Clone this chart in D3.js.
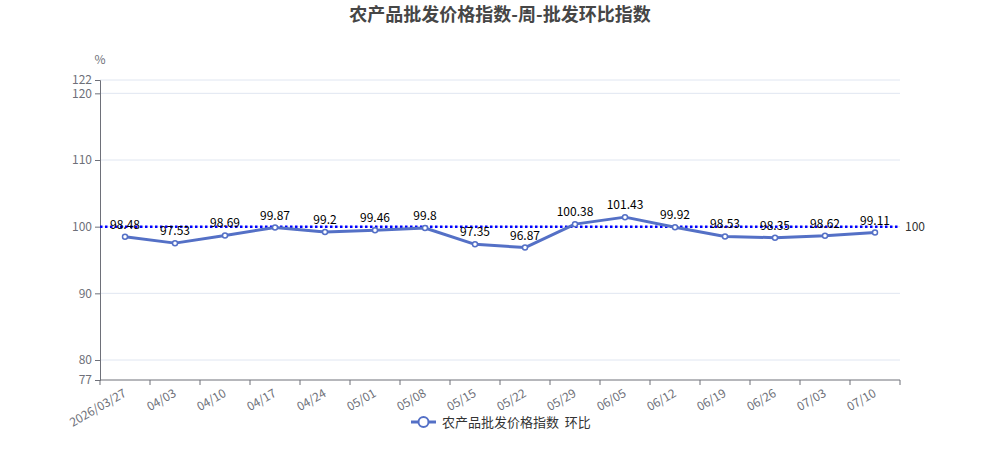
<!DOCTYPE html>
<html><head><meta charset="utf-8">
<script src="https://cdn.jsdelivr.net/npm/d3@7/dist/d3.min.js"></script>
<style>body{margin:0;background:#fff;font-family:"Noto Sans CJK SC","Noto Sans",sans-serif;}</style>
</head><body><svg id="c" width="1000" height="450"></svg>
<script>
const categories = ["2026/03/27","04/03","04/10","04/17","04/24","05/01","05/08","05/15","05/22","05/29","06/05","06/12","06/19","06/26","07/03","07/10"];
const values = [98.48,97.53,98.69,99.87,99.2,99.46,99.8,97.35,96.87,100.38,101.43,99.92,98.53,98.35,98.62,99.11];
const yTicks = [77,80,90,100,110,120,122];
const refValue = 100;
const title = "农产品批发价格指数-周-批发环比指数";
const seriesName = "农产品批发价格指数  环比";

const svg = d3.select("#c");
const L=100,R=900,T=80,B=380;
const x = d3.scaleBand().domain(categories).range([L,R]);
const y = d3.scaleLinear().domain([77,122]).range([B,T]);
const font = '"Noto Sans CJK SC","Noto Sans",sans-serif';
const color = "#5470c6";

svg.append("text").attr("x",500).attr("y",21).attr("text-anchor","middle")
  .attr("font-size",18).attr("font-weight","bold").attr("fill","#464646").attr("font-family",font).text(title);

// grid
svg.append("g").selectAll("line").data(yTicks.filter(d=>d!==77)).join("line")
  .attr("x1",L).attr("x2",R).attr("y1",d=>y(d)).attr("y2",d=>y(d)).attr("stroke","#e0e6f1").attr("stroke-width",1);

// y axis
const ya = svg.append("g").attr("transform",`translate(${L},0)`)
  .call(d3.axisLeft(y).tickValues(yTicks).tickSize(5).tickPadding(3).tickFormat(d3.format("d")));
ya.select(".domain").attr("stroke","#6e7079");
ya.selectAll(".tick line").attr("stroke","#6e7079");
ya.selectAll("text").attr("fill","#6e7079").attr("font-size",12).attr("font-family",font);
svg.append("text").attr("x",100).attr("y",64).attr("text-anchor","middle").attr("fill","#6e7079")
  .attr("font-size",12).attr("font-family",font).text("%");

// x axis
const xa = svg.append("g").attr("transform",`translate(0,${B})`);
xa.append("line").attr("x1",L).attr("x2",R).attr("stroke","#6e7079");
const tickPos = categories.map((c,i)=>L+i*x.step()).concat([R]);
xa.selectAll(".tk").data(tickPos).join("line").attr("x1",d=>d).attr("x2",d=>d).attr("y1",0).attr("y2",5).attr("stroke","#6e7079");
xa.selectAll(".lb").data(categories).join("text")
  .attr("transform",d=>`translate(${x(d)+x.bandwidth()/2},${12}) rotate(-30)`)
  .attr("text-anchor","end").attr("dy","0.35em").attr("fill","#6e7079").attr("font-size",12).attr("font-family",font).text(d=>d);

// reference line
svg.append("line").attr("x1",L).attr("x2",R).attr("y1",y(refValue)).attr("y2",y(refValue))
  .attr("stroke","#0000ff").attr("stroke-width",2.5).attr("stroke-dasharray","2.5,2.5");
svg.append("text").attr("x",905).attr("y",y(refValue)).attr("dy","0.35em").attr("fill","#333")
  .attr("font-size",12).attr("font-family",font).text(refValue);

// line
const cx = d=>x(d)+x.bandwidth()/2;
const line = d3.line().x((d,i)=>cx(categories[i])).y(d=>y(d));
svg.append("path").datum(values).attr("d",line).attr("fill","none").attr("stroke",color).attr("stroke-width",3).attr("stroke-linejoin","round");
svg.append("g").selectAll("circle").data(values).join("circle")
  .attr("cx",(d,i)=>cx(categories[i])).attr("cy",d=>y(d)).attr("r",2.5)
  .attr("fill","#fff").attr("stroke",color).attr("stroke-width",1.5);
svg.append("g").selectAll("text").data(values).join("text")
  .attr("x",(d,i)=>cx(categories[i])).attr("y",d=>y(d)-8).attr("text-anchor","middle")
  .attr("fill","#000").attr("font-size",12).attr("font-family",font).text(d=>d);

// legend
const lg = svg.append("g");
lg.append("line").attr("x1",411).attr("x2",436).attr("y1",422).attr("y2",422).attr("stroke",color).attr("stroke-width",3);
lg.append("circle").attr("cx",423.5).attr("cy",422).attr("r",5).attr("fill","#fff").attr("stroke",color).attr("stroke-width",2);
lg.append("text").attr("x",442).attr("y",422).attr("dy","0.35em").attr("fill","#333").attr("font-size",13)
  .attr("font-family",font).attr("xml:space","preserve").style("white-space","pre").text(seriesName);
</script></body></html>
